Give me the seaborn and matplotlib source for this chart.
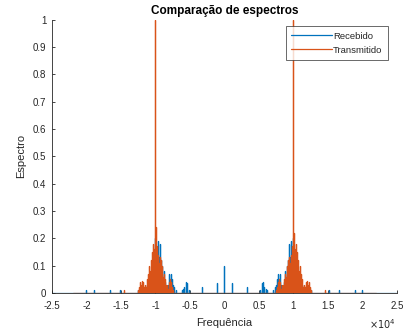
import numpy as np
import pandas as pd
import matplotlib
matplotlib.use("Agg")
import matplotlib.pyplot as plt
import seaborn as sns

# ---------------- data ----------------
title = "Comparação de espectros"
xlabel = "Frequência"
ylabel = "Espectro"
series_names = ["Recebido", "Transmitido"]

x_ticks = [-25000, -20000, -15000, -10000, -5000, 0, 5000, 10000, 15000, 20000, 25000]
x_tick_labels = ["-2.5", "-2", "-1.5", "-1", "-0.5", "0", "0.5", "1", "1.5", "2", "2.5"]
y_ticks = [0, 0.1, 0.2, 0.3, 0.4, 0.5, 0.6, 0.7, 0.8, 0.9, 1.0]
y_tick_labels = ["0", "0.1", "0.2", "0.3", "0.4", "0.5", "0.6", "0.7", "0.8", "0.9", "1"]

# Recebido (received) spectral lines
rx_freq = [-20000, -18900, -16600, -15100,
           -12500, -12000, -11500, -11200, -11000, -10800, -10600, -10500, -10400, -10300,
           -10200, -10100, -10000, -9900, -9800, -9700, -9600, -9500, -9400, -9300, -9200,
           -9100, -9000, -8900, -8800, -8600, -8400, -8200, -8100, -8000, -7900, -7800,
           -7700, -7600, -7500, -7300, -7000, -6200, -6000, -5800, -5600, -5500, -5400,
           -5200, -3300, -1100, 0, 1100, 3300,
           5200, 5400, 5500, 5600, 5800, 6000, 6200, 7000, 7300, 7500, 7600, 7700, 7800,
           7900, 8000, 8100, 8200, 8400, 8600, 8800, 8900, 9000, 9100, 9200, 9300, 9400,
           9500, 9600, 9700, 9800, 9900, 10000, 10100, 10200, 10300, 10400, 10500, 10600,
           10800, 11000, 11200, 11500, 12000, 12500,
           15100, 16600, 18900, 20000]
rx_amp = [0.010, 0.010, 0.010, 0.010,
          0.010, 0.015, 0.020, 0.030, 0.040, 0.050, 0.070, 0.080, 0.110, 0.100,
          0.120, 0.150, 0.200, 0.170, 0.140, 0.160, 0.190, 0.130, 0.180, 0.150, 0.120,
          0.090, 0.100, 0.060, 0.080, 0.040, 0.020, 0.030, 0.040, 0.070, 0.050, 0.070,
          0.040, 0.050, 0.030, 0.020, 0.010, 0.010, 0.015, 0.020, 0.040, 0.015, 0.035,
          0.010, 0.020, 0.036, 0.097, 0.036, 0.020,
          0.010, 0.035, 0.015, 0.040, 0.020, 0.015, 0.010, 0.010, 0.020, 0.030, 0.050,
          0.040, 0.070, 0.050, 0.070, 0.040, 0.030, 0.020, 0.040, 0.080, 0.060, 0.100,
          0.090, 0.120, 0.150, 0.180, 0.130, 0.190, 0.160, 0.140, 0.170, 0.200, 0.150,
          0.120, 0.100, 0.110, 0.080, 0.070, 0.050, 0.040, 0.030, 0.020, 0.015, 0.010,
          0.010, 0.010, 0.010, 0.010]

# Transmitido (transmitted) spectral lines
tx_freq = [-14500,
           -12500, -12400, -12300, -12200, -12100, -12000, -11900, -11800, -11700, -11600,
           -11500, -11400, -11300, -11200, -11100, -11000, -10900, -10800, -10700, -10600,
           -10500, -10400, -10300, -10200, -10100, -10000, -9900, -9800, -9700, -9600,
           -9500, -9400, -9300, -9200, -9100, -9000, -8900, -8800, -8700, -8600,
           -8500, -8400, -8300, -8200, -8100, -8000, -7900, -7800, -7700, -7600, -7500,
           7500, 7600, 7700, 7800, 7900, 8000, 8100, 8200, 8300, 8400,
           8500, 8600, 8700, 8800, 8900, 9000, 9100, 9200, 9300, 9400,
           9500, 9600, 9700, 9800, 9900, 10000, 10100, 10200, 10300, 10400,
           10500, 10600, 10700, 10800, 10900, 11000, 11100, 11200, 11300, 11400,
           11500, 11600, 11700, 11800, 11900, 12000, 12100, 12200, 12300, 12400, 12500,
           14500]
tx_amp = [0.010,
          0.010, 0.020, 0.030, 0.040, 0.030, 0.045, 0.030, 0.040, 0.020, 0.010,
          0.030, 0.020, 0.050, 0.040, 0.070, 0.060, 0.100, 0.080, 0.120, 0.100,
          0.150, 0.130, 0.180, 0.160, 0.220, 1.000, 0.240, 0.170, 0.120, 0.140,
          0.110, 0.130, 0.100, 0.120, 0.080, 0.100, 0.060, 0.070, 0.040, 0.050,
          0.030, 0.020, 0.030, 0.015, 0.040, 0.020, 0.050, 0.030, 0.040, 0.020, 0.010,
          0.010, 0.020, 0.040, 0.030, 0.050, 0.020, 0.040, 0.015, 0.030, 0.020,
          0.030, 0.050, 0.040, 0.070, 0.060, 0.100, 0.080, 0.120, 0.100, 0.130,
          0.110, 0.140, 0.120, 0.170, 0.240, 1.000, 0.220, 0.160, 0.180, 0.130,
          0.150, 0.100, 0.120, 0.080, 0.100, 0.060, 0.070, 0.040, 0.050, 0.020,
          0.030, 0.010, 0.020, 0.040, 0.030, 0.045, 0.030, 0.040, 0.030, 0.020, 0.010,
          0.010]

rx_span = [-25000, 25000]
tx_span = [-22000, 22000]

# ---------------- build spectrum polylines ----------------
def spectrum_rows(name, freqs, amps, span):
    rows = [(name, span[0], 0.0)]
    for f, a in zip(freqs, amps):
        rows += [(name, f, 0.0), (name, f, a), (name, f, 0.0)]
    rows.append((name, span[1], 0.0))
    return rows

rows = spectrum_rows(series_names[0], rx_freq, rx_amp, rx_span) + \
       spectrum_rows(series_names[1], tx_freq, tx_amp, tx_span)
df = pd.DataFrame(rows, columns=["serie", "freq", "amp"])

# ---------------- plot ----------------
sns.set_theme(style="white")
plt.rcParams["font.family"] = ["Liberation Sans", "DejaVu Sans"]
gray = "#262626"

fig = plt.figure(figsize=(4.03, 3.31), dpi=100)
ax = fig.add_axes([0.129, 0.115, 0.856, 0.826])

sns.lineplot(data=df, x="freq", y="amp", hue="serie", hue_order=series_names,
             palette=["#0072BD", "#D95319"], estimator=None, sort=False,
             linewidth=0.9, ax=ax)

ax.set_xlim(-25000, 25000)
ax.set_ylim(0, 1)
ax.set_xticks(x_ticks)
ax.set_xticklabels(x_tick_labels)
ax.set_yticks(y_ticks)
ax.set_yticklabels(y_tick_labels)
ax.tick_params(direction="in", length=2.5, width=0.6, colors=gray, labelsize=7,
               bottom=True, left=True)
ax.tick_params(axis="x", pad=6)
ax.tick_params(axis="y", pad=4)
for side in ["top", "right"]:
    ax.spines[side].set_visible(False)
for side in ["left", "bottom"]:
    ax.spines[side].set_color(gray)
    ax.spines[side].set_linewidth(0.6)

ax.set_title(title, fontsize=8.5, fontweight="bold", color="black", pad=4)
ax.set_xlabel(xlabel, fontsize=8, color=gray, labelpad=5)
ax.set_ylabel(ylabel, fontsize=8, color=gray, labelpad=5)
ax.text(0.995, -0.088, r"$\times10^4$", transform=ax.transAxes, fontsize=7,
        color=gray, ha="right", va="top")

leg = ax.legend(loc="upper right", bbox_to_anchor=(0.973, 0.975), fontsize=6.8,
                frameon=True, fancybox=False, handlelength=4.3, handletextpad=0.15,
                borderpad=0.55, labelspacing=0.55, borderaxespad=0)
leg.get_frame().set_edgecolor(gray)
leg.get_frame().set_linewidth(0.6)
for line in leg.get_lines():
    line.set_linewidth(0.9)

fig.savefig("out.png", dpi=100)
